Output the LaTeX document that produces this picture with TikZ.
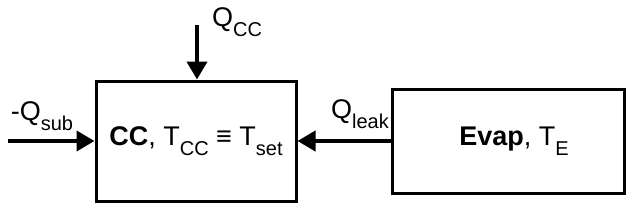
\documentclass[tikz,border=0pt]{standalone}
\usepackage{fontspec}
\setmainfont{Liberation Sans}
\usepackage{tikz}
\usetikzlibrary{positioning, arrows.meta, calc}

\newcommand{\lowsub}[1]{\raisebox{-0.38em}{\fontsize{10pt}{11pt}\selectfont #1}}

\begin{document}
\begin{tikzpicture}[x=0.5pt, y=-0.5pt, >={Triangle[length=9pt,width=10pt]},
    font=\fontsize{13.5pt}{15pt}\selectfont,
    blockbox/.style={draw, line width=1.5pt, inner sep=0pt},
    flow/.style={->, line width=2pt}]
    % Frame of the picture
    \useasboundingbox (0,0) rectangle (628,205);

    % Blocks
    \node[blockbox, minimum width=100pt, minimum height=60pt] (cc) at (196,141)
        {\textbf{CC}, T\lowsub{CC} \textbf{≡} T\lowsub{set}};
    \node[blockbox, minimum width=116pt, minimum height=52pt] (evap) at (508,141)
        {\hspace*{6pt}\textbf{Evap}, T\lowsub{E}};

    % Free ends of the heat flows
    \coordinate (sub) at (8,141);
    \coordinate (top) at (197,25);

    % Heat flows
    \draw[flow] (sub) -- (cc.west);
    \draw[flow] (top) -- (top |- cc.north);
    \draw[flow] (evap.west) -- (cc.east);

    % Labels
    \node (qsub) at (42,116) {-Q\lowsub{sub}};
    \node[anchor=west] (qcc) at (205,22) {Q\lowsub{CC}};
    \node (qleak) at (360,114) {Q\lowsub{leak}};
\end{tikzpicture}
\end{document}
